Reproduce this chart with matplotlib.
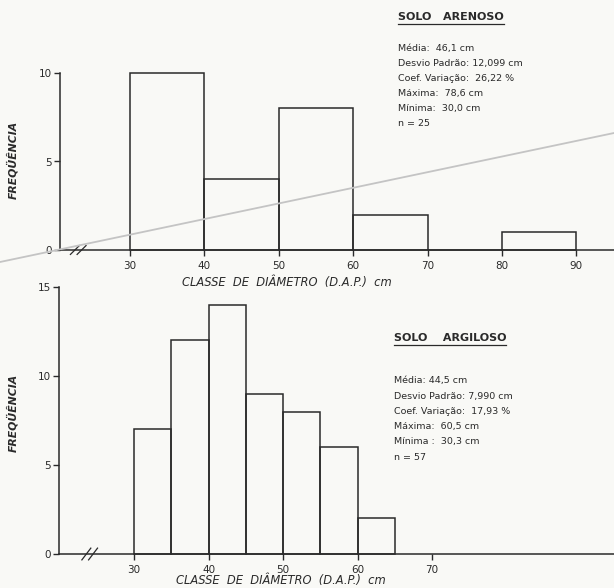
import matplotlib
matplotlib.use("Agg")
import matplotlib.pyplot as plt
import numpy as np
from matplotlib.lines import Line2D

# Histogram data
arenoso_edges = [30, 40, 50, 60, 70, 80, 90]
arenoso_counts = [10, 4, 8, 2, 0, 1]
argiloso_edges = [30, 35, 40, 45, 50, 55, 60, 65]
argiloso_counts = [7, 12, 14, 9, 8, 6, 2]

arenoso_xticks = [30, 40, 50, 60, 70, 80, 90]
argiloso_xticks = [30, 40, 50, 60, 70]
arenoso_yticks = [0, 5, 10]
argiloso_yticks = [0, 5, 10, 15]

arenoso_stats = ["Média:  46,1 cm", "Desvio Padrão: 12,099 cm", "Coef. Variação:  26,22 %",
                 "Máxima:  78,6 cm", "Mínima:  30,0 cm", "n = 25"]
argiloso_stats = ["Média: 44,5 cm", "Desvio Padrão: 7,990 cm", "Coef. Variação:  17,93 %",
                  "Máxima:  60,5 cm", "Mínima :  30,3 cm", "n = 57"]

ink = "#2a2a2a"
paper = "#f9f9f6"
W, H = 614, 588

fig = plt.figure(figsize=(W / 100, H / 100), dpi=100, facecolor=paper)


def px(x, y):
    # pixel position (from top-left) -> figure fraction
    return x / W, 1 - y / H


def make_axes(left, right, y0, ytop):
    x0, b = px(left, y0)
    x1, t = px(right, ytop)
    ax = fig.add_axes([x0, b, x1 - x0, t - b])
    ax.set_facecolor("none")
    return ax


def draw_hist(ax, edges, counts, xticks, yticks, xlim, ylim,
              xlab_pos, ylab_pos, brk_x, brk_h):
    edges = np.array(edges)
    ax.bar(edges[:-1], counts, width=np.diff(edges), align="edge",
           fill=False, edgecolor=ink, linewidth=1.1, clip_on=False)
    ax.set_xlim(*xlim)
    ax.set_ylim(*ylim)
    for s in ["top", "right"]:
        ax.spines[s].set_visible(False)
    for s in ["left", "bottom"]:
        ax.spines[s].set_color(ink)
        ax.spines[s].set_linewidth(1.1)
    ax.set_xticks(xticks)
    ax.set_yticks(yticks)
    ax.tick_params(axis="both", colors=ink, labelsize=7.5, length=4, width=1, direction="out")
    ax.tick_params(axis="x", pad=4)
    ax.tick_params(axis="y", pad=2)
    ax.set_xlabel("CLASSE  DE  DIÂMETRO  (D.A.P.)  cm", fontsize=8.3, style="italic",
                  color=ink)
    ax.xaxis.set_label_coords(*xlab_pos)
    ax.set_ylabel("FREQÜÊNCIA", fontsize=7.8, style="italic", fontweight="bold",
                  color=ink)
    ax.yaxis.set_label_coords(*ylab_pos)
    # axis break marks
    trans = ax.get_xaxis_transform()
    for dx in (0, 0.9):
        xb = brk_x + dx
        ax.plot([xb - 0.6, xb + 0.6], [-brk_h, brk_h], transform=trans,
                color=ink, lw=0.9, clip_on=False)


ax1 = make_axes(60, 614, 250, 73)
draw_hist(ax1, arenoso_edges, arenoso_counts, arenoso_xticks, arenoso_yticks,
          (20.6, 95.05), (0, 10), (0.41, -0.145), (-0.076, 0.51), 22.6, 0.025)

ax2 = make_axes(59, 614, 554, 287)
draw_hist(ax2, argiloso_edges, argiloso_counts, argiloso_xticks, argiloso_yticks,
          (19.93, 94.4), (0, 15), (0.40, -0.076), (-0.074, 0.53), 23.6, 0.022)


def stats_block(x, y_title, y_first, title, lines, step=15.2):
    tx, ty = px(x, y_title)
    t = fig.text(tx, ty, title, fontsize=8, fontweight="bold", color=ink,
                 va="center", ha="left")
    for i, line in enumerate(lines):
        lx, ly = px(x, y_first + i * step)
        fig.text(lx, ly, line, fontsize=6.8, color=ink, va="center", ha="left")
    return t


t1 = stats_block(398, 17, 48, "SOLO   ARENOSO", arenoso_stats)
t2 = stats_block(394, 338, 381, "SOLO    ARGILOSO", argiloso_stats)

# underline the titles
fig.canvas.draw()
for t in (t1, t2):
    bb = t.get_window_extent().transformed(fig.transFigure.inverted())
    fig.add_artist(Line2D([bb.x0, bb.x1], [bb.y0 - 0.004, bb.y0 - 0.004],
                          transform=fig.transFigure, color=ink, lw=0.9))

# faint scanning streak crossing the upper panel
fig.add_artist(Line2D([0, 1], [1 - 262 / H, 1 - 133 / H], transform=fig.transFigure,
                      color="#c4c4c4", lw=1.3))

fig.savefig("out.png", dpi=100, facecolor=paper)
